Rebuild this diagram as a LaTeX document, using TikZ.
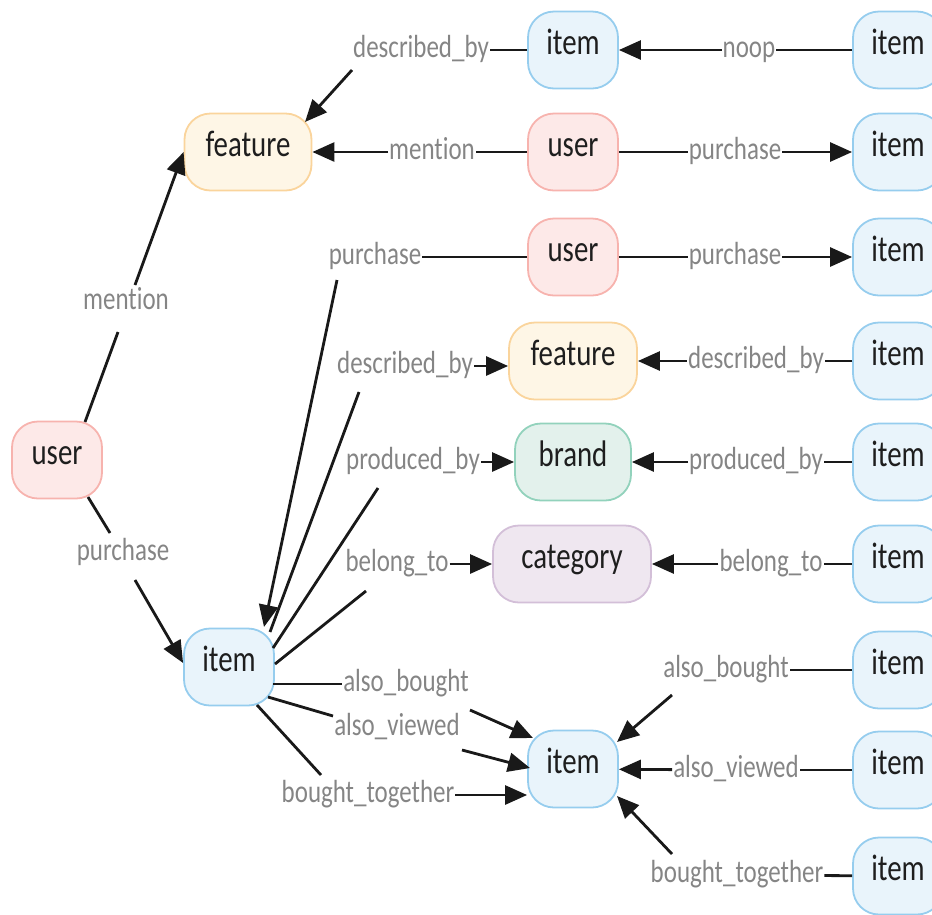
\documentclass[tikz,border=0pt]{standalone}
\usepackage{fontspec}
\setmainfont[FakeStretch=0.78,Ligatures={NoCommon}]{Carlito}
\usetikzlibrary{arrows.meta}
\definecolor{userfill}{HTML}{FDE9E8}
\definecolor{userdraw}{HTML}{F7B3AE}
\definecolor{featfill}{HTML}{FEF6E6}
\definecolor{featdraw}{HTML}{FAD49C}
\definecolor{itemfill}{HTML}{E9F4FB}
\definecolor{itemdraw}{HTML}{96CDEE}
\definecolor{brandfill}{HTML}{E3F1EC}
\definecolor{branddraw}{HTML}{92D2BC}
\definecolor{catfill}{HTML}{EFE7F0}
\definecolor{catdraw}{HTML}{D3BFD8}
\definecolor{lblgray}{HTML}{858585}
\definecolor{nodetext}{HTML}{1E1E1E}
\begin{document}
\begin{tikzpicture}[x=1pt,y=-1pt,
  ent/.style={rounded corners=26pt, line width=1.8pt, minimum height=77pt,
    minimum width=90pt, inner sep=0pt, text height=23pt, text depth=14pt,
    font=\fontsize{37}{40}\selectfont, text=nodetext},
  usr/.style={ent, fill=userfill, draw=userdraw},
  feat/.style={ent, fill=featfill, draw=featdraw, minimum width=127pt},
  itm/.style={ent, fill=itemfill, draw=itemdraw},
  brd/.style={ent, fill=brandfill, draw=branddraw, minimum width=116pt},
  catg/.style={ent, fill=catfill, draw=catdraw, minimum width=158pt},
  lbl/.style={inner xsep=1pt, inner ysep=0pt, text height=23pt, text depth=8pt,
    font=\fontsize{32}{36}\selectfont, text=lblgray},
  con/.style={line width=2.8pt, draw=black!90},
  arr/.style={con, -{Triangle[length=22pt,width=19pt]}},
]
\path[use as bounding box] (0,0) rectangle (932,914);
\clip (0,0) rectangle (932,914);

% entity nodes
\node[usr] (u0) at (57,460) {user};
\node[feat] (f0) at (248,152) {feature};
\node[itm] (i0) at (229,667) {item};
\node[itm] (iA) at (573,50) {item};
\node[usr] (uB) at (573,152) {user};
\node[usr] (uC) at (573,257) {user};
\node[feat, minimum width=128pt] (fD) at (573,361) {feature};
\node[brd] (bE) at (573,462) {brand};
\node[catg] (cF) at (572,564) {category};
\node[itm] (iG) at (573,769) {item};
\node[itm] (r1) at (898,50) {item};
\node[itm] (r2) at (898,152) {item};
\node[itm] (r3) at (898,257) {item};
\node[itm] (r4) at (898,361) {item};
\node[itm] (r5) at (898,462) {item};
\node[itm] (r6) at (898,564) {item};
\node[itm] (r7) at (898,670) {item};
\node[itm] (r8) at (898,770) {item};
\node[itm] (r9) at (898,876) {item};

% labels
\node[lbl] (l1) at (421,50) {described\_by};
\node[lbl] (l2) at (749,50) {noop};
\node[lbl] (l3) at (432,152) {mention};
\node[lbl] (l4) at (735,152) {purchase};
\node[lbl] (l5) at (375,257) {purchase};
\node[lbl] (l6) at (735,257) {purchase};
\node[lbl] (l7) at (126,302) {mention};
\node[lbl] (l8) at (123,553) {purchase};
\node[lbl] (l9) at (405,366) {described\_by};
\node[lbl] (l10) at (413,462) {produced\_by};
\node[lbl] (l11) at (397,564) {belong\_to};
\node[lbl] (l12) at (406,684) {also\_bought};
\node[lbl] (l13) at (397,728) {also\_viewed};
\node[lbl] (l14) at (368,795) {bought\_together};
\node[lbl] (l15) at (756,361) {described\_by};
\node[lbl] (l16) at (756,462) {produced\_by};
\node[lbl] (l17) at (771,564) {belong\_to};
\node[lbl] (l18) at (726,670) {also\_bought};
\node[lbl] (l19) at (736,770) {also\_viewed};
\node[lbl] (l20) at (737,875) {bought\_together};

% connectors
\draw[con] ([shift={(28,-38)}]u0.center) -- ([shift={(-8,30)}]l7.center);
\draw[arr] ([shift={(9,-17)}]l7.center) -- (f0.west);
\draw[con] ([shift={(31,37)}]u0.center) -- ([shift={(-13,-20)}]l8.center);
\draw[arr] ([shift={(12,27)}]l8.center) -- ([shift={(0,-4)}]i0.west);

\draw[con] (iA) -- (l1);
\draw[arr] ([shift={(-69,20)}]l1.center) -- ([shift={(57,-30)}]f0.center);
\draw[con] (r1) -- (l2);
\draw[arr] (l2) -- (iA);
\draw[con] (uB) -- (l3);
\draw[arr] (l3) -- (f0);
\draw[con] (uB) -- (l4);
\draw[arr] (l4) -- (r2);
\draw[con] (uC) -- (l5);
\draw[arr] ([shift={(-38,23)}]l5.center) -- ([shift={(35,-40)}]i0.center);
\draw[con] (uC) -- (l6);
\draw[arr] (l6) -- (r3);

\draw[con] ([shift={(41,-35)}]i0.center) -- ([shift={(-46,26)}]l9.center);
\draw[arr] (l9.east) -- (l9.east -| fD.west);
\draw[con] ([shift={(44,-19)}]i0.center) -- ([shift={(-35,26)}]l10.center);
\draw[arr] (l10.east) -- (l10.east -| bE.west);
\draw[con] ([shift={(46,-3)}]i0.center) -- ([shift={(-31,27)}]l11.center);
\draw[arr] (l11.east) -- (l11.east -| cF.west);

\draw[con] ([shift={(44,17)}]i0.center) -- (l12.west);
\draw[arr] ([shift={(64,26)}]l12.center) -- ([shift={(-40,-31)}]iG.center);
\draw[con] ([shift={(39,30)}]i0.center) -- ([shift={(-64,-12)}]l13.center);
\draw[arr] ([shift={(65,22)}]l13.center) -- ([shift={(-43,-1)}]iG.center);
\draw[con] ([shift={(28,38)}]i0.center) -- ([shift={(-47,-20)}]l14.center);
\draw[arr] (l14.east) -- (l14.east -| iG.west);

\draw[con] (r4) -- (l15);
\draw[arr] (l15) -- (fD);
\draw[con] (r5) -- (l16);
\draw[arr] (l16) -- (bE);
\draw[con] (r6) -- (l17);
\draw[arr] (l17) -- (cF);
\draw[con] (r7) -- (l18);
\draw[arr] ([shift={(-54,25)}]l18.center) -- ([shift={(44,-27)}]iG.center);
\draw[con] (r8) -- (l19);
\draw[arr] (l19) -- (iG);
\draw[con] (r9) -- (l20);
\draw[arr] ([shift={(-65,-21)}]l20.center) -- ([shift={(44,27)}]iG.center);
\end{tikzpicture}
\end{document}
